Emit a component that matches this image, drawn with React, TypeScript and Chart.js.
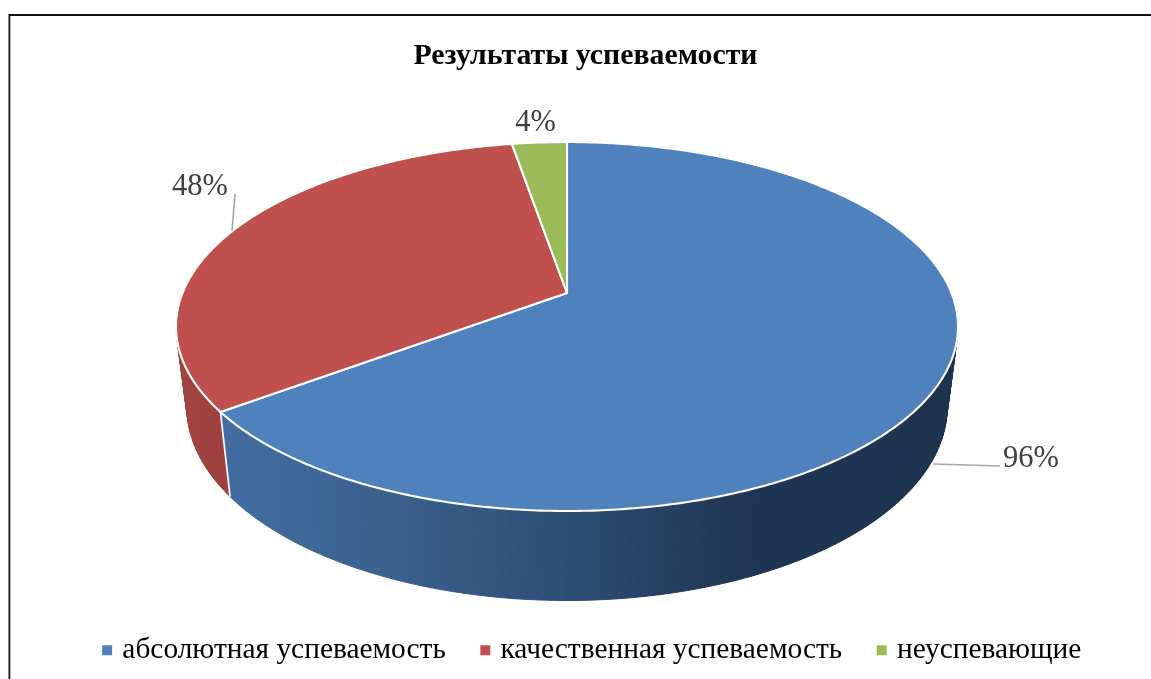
import React, { useEffect, useRef } from "react";
import { Chart, registerables } from "chart.js";

Chart.register(...registerables);

const titleText = "Результаты успеваемости";
const categories = ["абсолютная успеваемость", "качественная успеваемость", "неуспевающие"];
const seriesValues = [96, 48, 4];
const sliceColors = ["#4f81bd", "#c0504d", "#9bbb59"];

const FONT = "'Liberation Serif', 'Times New Roman', serif";

// perspective of the tilted disc, as fractions of the canvas size
const W = 1151;
const H = 679;
const view = {
  cx: 567 / W,
  apexY: 293 / H,
  a: 0.1816,
  topRx: 384.5 / W,
  topRy: 178.4 / H,
  lowRx: 373.8 / W,
  lowRy: 187 / H,
  lowDy: 79 / H,
};

// data-label placement and leader lines (fractions of the canvas size)
const labelPlaces = [
  { x: 1031 / W, y: 459 / H, leader: [1000 / W, 466 / H, 933 / W, 464 / H] },
  { x: 200 / W, y: 187 / H, leader: [235 / W, 194 / H, 232 / W, 231 / H] },
  { x: 535.5 / W, y: 123 / H, leader: null as number[] | null },
];

const pie3d = {
  id: "pie3d",
  beforeDraw(chart: any) {
    const { ctx, width, height } = chart;
    ctx.save();
    ctx.strokeStyle = "#111111";
    ctx.lineWidth = 1.8;
    ctx.beginPath();
    ctx.moveTo(9.4, height);
    ctx.lineTo(9.4, 15);
    ctx.lineTo(width, 15);
    ctx.stroke();
    ctx.restore();
  },
  afterLayout(chart: any) {
    // the reference's title sits a little left of its legend
    if (chart.titleBlock) {
      chart.titleBlock.left -= 8.5;
      chart.titleBlock.right -= 8.5;
    }
  },
  beforeDatasetDraw(chart: any, args: any) {
    const { ctx, width, height } = chart;
    const meta = args.meta;
    const cx = view.cx * width;
    const apexY = view.apexY * height;
    const top = (phi: number) => {
      const u = Math.sin(phi);
      const v = Math.cos(phi);
      const w = 1 + view.a * v;
      return [cx + (view.topRx * width * u) / w, apexY - (view.topRy * height * v) / w];
    };
    const low = (phi: number) => {
      const u = Math.sin(phi);
      const v = Math.cos(phi);
      const w = 1 + view.a * v;
      return [cx + (view.lowRx * width * u) / w, apexY + view.lowDy * height - (view.lowRy * height * v) / w];
    };
    const angles = meta.data.map((arc: any) => {
      const p = arc.getProps(["startAngle", "endAngle"], true);
      return [p.startAngle + Math.PI / 2, p.endAngle + Math.PI / 2];
    });

    const blueWall = ctx.createLinearGradient(229, 0, 958, 0);
    blueWall.addColorStop(0, "#416c9f");
    blueWall.addColorStop(0.24, "#3a5f8c");
    blueWall.addColorStop(0.47, "#2d4c72");
    blueWall.addColorStop(0.72, "#1f3553");
    blueWall.addColorStop(1, "#1d324d");
    const redWall = ctx.createLinearGradient(176, 0, 230, 0);
    redWall.addColorStop(0, "#a2433f");
    redWall.addColorStop(1, "#9d403d");
    const greenWall = "#7c9647";
    const walls = [blueWall, redWall, greenWall];

    ctx.save();
    ctx.lineJoin = "round";
    // side walls, back to front
    [2, 1, 0].forEach((i) => {
      const [s, e] = angles[i];
      const steps = Math.max(2, Math.ceil((e - s) / 0.02));
      ctx.fillStyle = walls[i];
      ctx.strokeStyle = walls[i];
      ctx.lineWidth = 1;
      for (let k = 0; k < steps; k++) {
        const a = s + ((e - s) * k) / steps;
        const b = s + ((e - s) * (k + 1)) / steps;
        const p1 = top(a);
        const p2 = top(b);
        const p3 = low(b);
        const p4 = low(a);
        ctx.beginPath();
        ctx.moveTo(p1[0], p1[1]);
        ctx.lineTo(p2[0], p2[1]);
        ctx.lineTo(p3[0], p3[1]);
        ctx.lineTo(p4[0], p4[1]);
        ctx.closePath();
        ctx.fill();
        ctx.stroke();
      }
    });
    // seam between the two visible walls
    const seam = angles[0][1];
    const sa = top(seam);
    const sb = low(seam);
    ctx.strokeStyle = "#f2f2f2";
    ctx.lineWidth = 1.8;
    ctx.beginPath();
    ctx.moveTo(sa[0], sa[1]);
    ctx.lineTo(sb[0], sb[1]);
    ctx.stroke();
    // top faces
    angles.forEach(([s, e]: number[], i: number) => {
      const steps = Math.max(4, Math.ceil((e - s) / 0.01));
      ctx.beginPath();
      ctx.moveTo(cx, apexY);
      for (let k = 0; k <= steps; k++) {
        const p = top(s + ((e - s) * k) / steps);
        ctx.lineTo(p[0], p[1]);
      }
      ctx.closePath();
      ctx.fillStyle = sliceColors[i];
      ctx.fill();
      ctx.strokeStyle = "#ffffff";
      ctx.lineWidth = 2.1;
      ctx.stroke();
    });
    // data labels
    ctx.font = `30.5px ${FONT}`;
    ctx.textAlign = "center";
    ctx.textBaseline = "middle";
    seriesValues.forEach((v, i) => {
      const place = labelPlaces[i];
      if (place.leader) {
        const [x1, y1, x2, y2] = place.leader;
        ctx.strokeStyle = "#a6a6a6";
        ctx.lineWidth = 1.6;
        ctx.beginPath();
        ctx.moveTo(x1 * width, y1 * height);
        ctx.lineTo(x2 * width, y2 * height);
        ctx.stroke();
      }
      ctx.fillStyle = "#404040";
      ctx.fillText(`${v}%`, place.x * width, place.y * height);
    });
    ctx.restore();
    return false;
  },
};

export default function App() {
  const ref = useRef<HTMLCanvasElement | null>(null);
  useEffect(() => {
    const chart = new Chart(ref.current as HTMLCanvasElement, {
      type: "pie",
      data: {
        labels: categories,
        datasets: [{ data: seriesValues, backgroundColor: sliceColors, borderWidth: 0 }],
      },
      plugins: [pie3d],
      options: {
        animation: false,
        responsive: false,
        layout: { padding: { left: 37, right: 0, top: 38, bottom: 4 } },
        plugins: {
          tooltip: { enabled: false },
          title: {
            display: true,
            text: titleText,
            color: "#000000",
            font: { family: FONT, size: 29.8, weight: "bold" },
            padding: { top: 0, bottom: 10 },
          },
          legend: {
            position: "bottom",
            labels: {
              color: "#000000",
              font: { family: FONT, size: 29.4 },
              usePointStyle: true,
              pointStyle: "rect",
              boxWidth: 1,
              boxHeight: 10,
              padding: 39,
            },
          },
        },
      },
    } as any);
    return () => chart.destroy();
  }, []);
  return (
    <canvas
      ref={ref}
      width={W}
      height={H}
      style={{ position: "absolute", left: 0, top: 0, display: "block", background: "#ffffff" }}
    />
  );
}
